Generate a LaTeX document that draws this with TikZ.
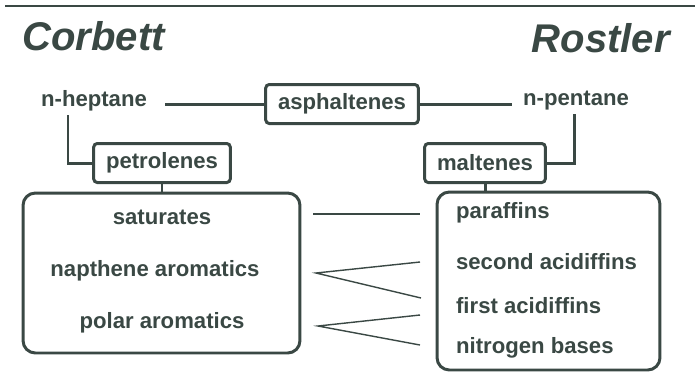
\documentclass[tikz,border=0pt]{standalone}
\usepackage{fontspec}
\setmainfont{Liberation Sans}
\usepackage{xcolor}
\usepackage{tikz}
\usetikzlibrary{positioning, calc}

\definecolor{ink}{RGB}{58,72,68}

\tikzset{
  label/.style={text=ink, font=\fontsize{12.6}{15}\selectfont\bfseries, inner sep=1pt},
  title/.style={text=ink, font=\fontsize{22.8}{27}\selectfont\bfseries\itshape, inner sep=0pt},
  tag/.style={label, draw=ink, line width=1.7pt, rounded corners=2pt, inner xsep=7pt, minimum height=0.78cm},
  group/.style={draw=ink, line width=1.7pt, rounded corners=7pt},
  link/.style={draw=ink, line width=1.7pt},
  match/.style={draw=ink, line width=0.8pt}
}

\begin{document}
\begin{tikzpicture}[x=0.02cm, y=-0.02cm]
\useasboundingbox (0,0) rectangle (695,387);
\draw[ink, line width=1.2pt] (5,6) -- (695,6);

% headings
\node[title, anchor=base west] (corbett) at (22,50) {Corbett};
\node[title, anchor=base east] (rostler) at (670,52) {Rostler};

% solvents and fractions
\node[label] (heptane) at (94,101) {n-heptane};
\node[label] (pentane) at (576,101) {n-pentane};
\node[tag] (asph) at (342,104) {asphaltenes};
\node[tag] (petrol) at (162,163) {petrolenes};
\node[tag] (malt) at (485,163) {maltenes};

\coordinate (hepend) at (165,104);
\coordinate (pentend) at (512,104);
\coordinate (hepdrop) at (68,115);
\coordinate (pentdrop) at (574,114);

\draw[link] (hepend) -- (asph.west);
\draw[link] (asph.east) -- (pentend);
\draw[link] (hepdrop) |- (petrol.west);
\draw[link] (pentdrop) |- (malt.east);

% groups
\node[group, minimum width=5.54cm, minimum height=3.2cm] (corbettbox) at (161.5,273) {};
\node[group, minimum width=4.46cm, minimum height=3.56cm] (rostlerbox) at (548.5,281) {};
\draw[link] (petrol.south) -- (petrol.south |- corbettbox.north);
\draw[link] (malt.south) -- (malt.south |- rostlerbox.north);

\node[label] (sat) at (162,217) {saturates};
\node[label] (napar) at (155,271) {napthene aromatics};
\node[label] (polar) at (162,323) {polar aromatics};

\node[label, anchor=west] (paraf) at (454,213) {paraffins};
\node[label, anchor=west] (second) at (454,262) {second acidiffins};
\node[label, anchor=west] (first) at (454,306) {first acidiffins};
\node[label, anchor=west] (nitro) at (454,348) {nitrogen bases};

% matches
\coordinate (s1) at (313,214);
\coordinate (p1) at (420,214);
\coordinate (n0) at (316,273);
\coordinate (n1) at (420,262);
\coordinate (n2) at (421,298);
\coordinate (a0) at (318,326);
\coordinate (a1) at (420,315);
\coordinate (a2) at (420,345);

\draw[match] (s1) -- (p1);
\draw[match] (n1) -- (n0) -- (n2);
\draw[match] (a1) -- (a0) -- (a2);
\end{tikzpicture}
\end{document}
